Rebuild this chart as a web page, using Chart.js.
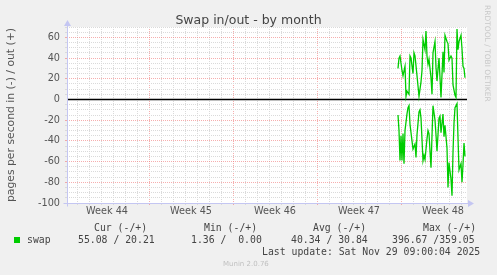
<!DOCTYPE html>
<html><head><meta charset="utf-8">
<script src="https://cdn.jsdelivr.net/npm/chart.js@4.4.1/dist/chart.umd.min.js"></script>
<style>
html,body{margin:0;padding:0;background:#f0f0f0;}
#wrap{position:relative;width:497px;height:275px;overflow:hidden;background:#f0f0f0;}
canvas{position:absolute;left:0;top:0;}
.m{position:absolute;white-space:pre;font-family:"DejaVu Sans Mono",monospace;font-size:9.8px;line-height:12px;color:#444;}
#title{position:absolute;left:0;top:12.7px;width:497px;text-align:center;font-family:"DejaVu Sans",sans-serif;font-size:12.5px;line-height:14px;color:#444;}
#wm{position:absolute;left:482.5px;top:5px;writing-mode:vertical-rl;font-family:"DejaVu Sans",sans-serif;font-size:7.5px;line-height:9px;color:#c8c8c8;white-space:pre;}
#munin{position:absolute;left:223px;top:259.3px;font-family:"DejaVu Sans",sans-serif;font-size:7px;line-height:10px;color:#c0c0c0;white-space:pre;}
#box{position:absolute;left:14px;top:237px;width:6px;height:6px;background:#00cc00;}
</style></head><body>
<div id="wrap">
<canvas id="c" width="497" height="275"></canvas>
<div id="title">Swap in/out - by month</div>
<div id="wm">RRDTOOL / TOBI OETIKER</div>
<div class="m" style="left:94px;top:222.1px">Cur (-/+)</div>
<div class="m" style="left:204px;top:222.1px">Min (-/+)</div>
<div class="m" style="left:313px;top:222.1px">Avg (-/+)</div>
<div class="m" style="left:423px;top:222.1px">Max (-/+)</div>
<div id="box"></div>
<div class="m" id="lname" style="left:27px;top:234.1px"></div>
<div class="m" id="lcur" style="left:78px;top:234.1px"></div>
<div class="m" id="lmin" style="left:191px;top:234.1px"></div>
<div class="m" id="lavg" style="left:291px;top:234.1px"></div>
<div class="m" id="lmax" style="left:392px;top:234.1px"></div>
<div class="m" id="lupd" style="left:262px;top:246.1px"></div>
<div id="munin">Munin 2.0.76</div>
</div>
<script>
// ---- data (hours relative to Mon Nov 24 00:00, start of week 48) ----
const outHours = [-6,-4,-2,0,2,4,8,10,12,16,18,20,24,26,28,32,34,36,40,42,44,48,50,52,54,56,60,62,64,68,70,72,76,78,80,84,86,88,92,94,96,100,102,104,108,110,112,114,116,120,122,124,126,128];
const outValues = [30,40,42,35,28,23,32,3,8,5,42,40,25,45,42,23,13,3,17,28,58,48,66,42,34,39,21,5,45,56,31,18,40,21,2,46,26,62,56,54,38,42,40,14,4,2,68,48,56,62,49,32,30,21];
const inHours = [-6,-4,-2,0,2,4,6,8,12,14,16,18,22,24,28,30,32,36,38,40,44,46,48,52,54,56,60,62,64,68,70,72,76,78,80,84,86,88,92,94,96,100,102,104,106,108,112,114,116,120,122,124,126,128];
const inValues = [15,30,59,35,59,33,62,30,14,8,6,24,40,48,43,56,34,12,10,18,59,54,58,38,30,33,66,35,6,20,34,50,18,16,32,14,36,25,47,85,61,77,93,51,23,8,4,37,68,62,80,63,42,55];
const weekLabels = ['Week 44','Week 45','Week 46','Week 47','Week 48'];
const weekCenterHours = [-588,-420,-252,-84,84];
const yTickLabels = ['60','40','20','0','-20','-40','-60','-80','-100'];
const X_MIN = -668, X_MAX = 132, Y_MIN = -100, Y_MAX = 70;
const seriesName = 'swap';
const statCur = ['55.08','20.21'];
const statMin = ['1.36',' 0.00'];
const statAvg = ['40.34','30.84'];
const statMax = ['396.67','359.05'];
const lastUpdate = 'Last update: Sat Nov 29 09:00:04 2025';

document.getElementById('lname').textContent = seriesName;
document.getElementById('lcur').textContent = statCur[0] + ' / ' + statCur[1];
document.getElementById('lmin').textContent = statMin[0] + ' / ' + statMin[1];
document.getElementById('lavg').textContent = statAvg[0] + ' / ' + statAvg[1];
document.getElementById('lmax').textContent = statMax[0] + ' /' + statMax[1];
document.getElementById('lupd').textContent = lastUpdate;

const GREEN = '#00cc00';
const MINOR = '#dadada';
const MAJOR = 'rgba(240,120,120,0.6)';
const AXIS = '#c4c6f2';

const bgPlugin = {
  id: 'bg',
  beforeDraw(chart) {
    const {ctx, chartArea: a} = chart;
    ctx.save();
    ctx.fillStyle = '#ffffff';
    ctx.fillRect(a.left, a.top, a.right - a.left, a.bottom - a.top);
    ctx.restore();
  },
  afterDatasetsDraw(chart) {
    const {ctx, chartArea: a} = chart;
    const L = Math.round(a.left) + 0.5, B = Math.round(a.bottom) + 0.5;
    ctx.save();
    ctx.strokeStyle = AXIS; ctx.fillStyle = AXIS; ctx.lineWidth = 1;
    ctx.beginPath();
    ctx.moveTo(L - 4, B); ctx.lineTo(a.right + 3, B);
    ctx.moveTo(L, B + 3); ctx.lineTo(L, a.top - 3);
    ctx.stroke();
    ctx.beginPath();
    ctx.moveTo(a.right + 7, B); ctx.lineTo(a.right + 1, B - 3.5); ctx.lineTo(a.right + 1, B + 3.5); ctx.closePath(); ctx.fill();
    ctx.beginPath();
    ctx.moveTo(L, a.top - 7); ctx.lineTo(L - 3.5, a.top - 1); ctx.lineTo(L + 3.5, a.top - 1); ctx.closePath(); ctx.fill();
    ctx.restore();
  }
};

new Chart(document.getElementById('c'), {
  type: 'line',
  data: {
    datasets: [
      { label: 'zero', data: [{x: X_MIN, y: 0}, {x: X_MAX, y: 0}], borderColor: '#000000', borderWidth: 1.5, pointRadius: 0, order: 3 },
      { label: 'swap in', data: inHours.map((h, i) => ({x: h, y: -inValues[i]})), borderColor: GREEN, borderWidth: 1.3, pointRadius: 0, tension: 0, order: 1 },
      { label: 'swap out', data: outHours.map((h, i) => ({x: h, y: outValues[i]})), borderColor: GREEN, borderWidth: 1.3, pointRadius: 0, tension: 0, order: 2 }
    ]
  },
  options: {
    responsive: false, animation: false, devicePixelRatio: 1,
    layout: { padding: { top: 27, right: 30, left: 0, bottom: 0 } },
    plugins: { legend: { display: false }, title: { display: false }, tooltip: { enabled: false } },
    scales: {
      x: {
        type: 'linear', min: X_MIN, max: X_MAX,
        afterBuildTicks(s) {
          const t = [];
          for (let v = X_MIN + 8; v <= X_MAX; v += 12) t.push({value: v});
          s.ticks = t;
        },
        afterFit(s) { s.height = 72; },
        ticks: {
          autoSkip: false, maxRotation: 0, minRotation: 0, padding: 1,
          font: { family: 'DejaVu Sans', size: 9.7 }, color: '#555555',
          callback(v) { const i = weekCenterHours.indexOf(v); return i >= 0 ? weekLabels[i] : ''; }
        },
        grid: {
          color(ctx) { const v = ctx.tick ? ctx.tick.value : 0; return v % 168 === 0 ? MAJOR : (v % 24 === 0 ? MINOR : 'rgba(0,0,0,0)'); },
          tickLength: 2, lineWidth: 1
        },
        border: { display: false, dash: [1, 1] }
      },
      y: {
        type: 'linear', min: Y_MIN, max: Y_MAX,
        afterBuildTicks(s) {
          const t = [];
          for (let v = Y_MIN; v <= Y_MAX; v += 5) t.push({value: v});
          s.ticks = t;
        },
        afterFit(s) { s.width = 67; },
        ticks: {
          autoSkip: false, padding: 5,
          font: { family: 'DejaVu Sans', size: 9.7 }, color: '#555555',
          callback(v) { const s = String(v); return yTickLabels.includes(s) ? s : ''; }
        },
        grid: {
          color(ctx) { const v = ctx.tick ? ctx.tick.value : 1; if (v === 0) return 'rgba(0,0,0,0)'; return v % 20 === 0 ? MAJOR : MINOR; },
          tickLength: 2, lineWidth: 1
        },
        border: { display: false, dash: [1, 1] },
        title: { display: true, text: 'pages per second in (-) / out (+)', font: { family: 'DejaVu Sans', size: 10.8 }, color: '#555555', padding: { top: 4.5, bottom: 0 } }
      }
    }
  },
  plugins: [bgPlugin]
});
</script>
</body></html>
